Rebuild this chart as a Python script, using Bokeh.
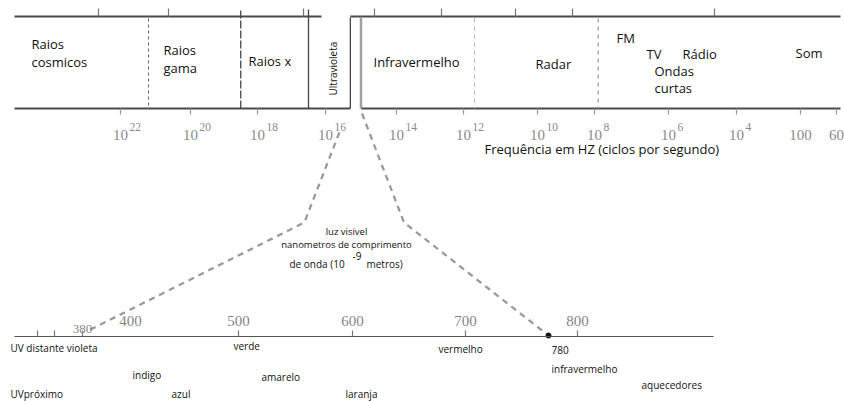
import numpy as np
from bokeh.plotting import figure
from bokeh.models import Range1d
from bokeh.embed import file_html
from bokeh.resources import INLINE
from bokeh.core.properties import value

# ---------------- data ----------------
freq_exponents = [22, 20, 18, 16, 14, 12, 10, 8, 6, 4]
freq_plain_values = [100, 60]
freq_plain_labels = ["100", "60"]
freq_title = "Frequência em HZ  (ciclos por segundo)"

band_names = ["Raios cosmicos", "Raios gama", "Raios x", "Ultravioleta", "Infravermelho",
              "Radar", "FM", "TV", "Rádio", "Ondas curtas", "Som"]
# band boundaries, as exponents of the frequency (10^e Hz)
band_edges_exp = [21.2, 18.5, 16.5, 15.3, 15.0, 11.7, 7.9]

nm_labels = [400, 500, 600, 700, 800]
nm_low_label = 380
nm_visible = [380, 780]
nm_tick_values = [340, 360, 380, 500, 600, 700, 800]

spectrum_names = ["UV distante violeta", "verde", "vermelho", "780", "indigo", "amarelo",
                  "infravermelho", "aquecedores", "UVpróximo", "azul", "laranja"]
center_lines = ["luz visivel", "nanometros de comprimento"]
center_last = ["de onda (10", "-9", "metros)"]

# ---------------- layout (scales) ----------------
FREQ_ANCHOR_E = np.array([22, 20, 18, 16, 14, 12, 10, 8, 6, 4, 2, np.log10(60)])
FREQ_ANCHOR_PX = np.array([120, 190, 257, 325, 396, 463, 537, 594, 668, 736, 800, 836])
NM_ANCHOR = np.array([340, 360, 380, 400, 500, 600, 700, 780, 800])
NM_ANCHOR_PX = np.array([37, 54, 82, 130, 238, 352, 465, 548, 577])


def f2x(e):
    return np.interp(-np.asarray(e, dtype=float), -FREQ_ANCHOR_E, FREQ_ANCHOR_PX)


def nm2x(n):
    return np.interp(np.asarray(n, dtype=float), NM_ANCHOR, NM_ANCHOR_PX)


FONT = value("Open Sans")
SERIF = value("Liberation Serif")
TOP_Y, BOT_Y = 16, 108
LEFT_X, RIGHT_X = 14, 840
AXIS_Y = 336

p = figure(width=844, height=401, x_range=Range1d(0, 844), y_range=Range1d(401, 0),
           output_backend="svg", toolbar_location=None, min_border=0,
           x_axis_location=None, y_axis_location=None)
p.grid.visible = False
p.outline_line_color = None
p.background_fill_color = "white"
p.border_fill_color = "white"

# --- top & bottom frame lines
uv_right = float(f2x(band_edges_exp[3]))
ir_left = float(f2x(band_edges_exp[4]))
p.segment(x0=[LEFT_X], y0=[TOP_Y], x1=[RIGHT_X], y1=[TOP_Y], line_color="#4a4a4a", line_width=2)
p.segment(x0=[LEFT_X, ir_left], y0=[BOT_Y, BOT_Y], x1=[uv_right, RIGHT_X], y1=[BOT_Y, BOT_Y],
          line_color="#4a4a4a", line_width=2)

# top ticks (printed slightly offset in the original)
top_tick_e = [22, 20, 16, 14, 12, 10, 8, 4]
tx = f2x(top_tick_e) - 22
p.segment(x0=tx, y0=[8] * len(tx), x1=tx, y1=[TOP_Y] * len(tx), line_color="#777", line_width=1.2)

# bottom ticks under frequency labels
bx = FREQ_ANCHOR_PX
p.segment(x0=bx, y0=[BOT_Y] * len(bx), x1=bx, y1=[BOT_Y + 6] * len(bx), line_color="#999", line_width=1.2)

# white box for Ultraviolet
box_left = float(f2x(band_edges_exp[2])) + 13
p.quad(left=[box_left], right=[uv_right], top=[11], bottom=[103], fill_color="white", line_color=None)

# band dividers
edge_styles = [
    dict(y0=18, color="#666", width=1, dash="3 3"),
    dict(y0=10, color="#444", width=1.3, dash="8 2"),
    dict(y0=9, color="#444", width=1.3, dash="solid"),
    dict(y0=17, color="#444", width=1.3, dash="solid"),
    dict(y0=17, color="#a0a0a0", width=2.5, dash="solid"),
    dict(y0=18, color="#b0b0b0", width=1, dash="4 4"),
    dict(y0=18, color="#999", width=1.2, dash="4 4"),
]
for e, st in zip(band_edges_exp, edge_styles):
    x = float(f2x(e))
    p.segment(x0=[x], y0=[st["y0"]], x1=[x], y1=[BOT_Y], line_color=st["color"],
              line_width=st["width"], line_dash=st["dash"])

# band labels
band_layout = {
    "Raios cosmicos": (31, [43, 61]),
    "Raios gama": (163, [49, 67]),
    "Raios x": (248, [60]),
    "Infravermelho": (373, [61]),
    "Radar": (535, [63]),
    "FM": (616, [37]),
    "TV": (646, [53]),
    "Rádio": (682, [53]),
    "Ondas curtas": (654, [70, 87]),
    "Som": (795, [52]),
}
lx, ly, lt = [], [], []
for name in band_names:
    if name not in band_layout:
        continue
    x, ys = band_layout[name]
    parts = name.split(" ") if len(ys) > 1 else [name]
    for part, y in zip(parts, ys):
        lx.append(x); ly.append(y); lt.append(part)
p.text(x=lx, y=ly, text=lt, text_font=FONT, text_font_size="13px", text_color="#111",
       text_align="left", text_baseline="alphabetic")

# rotated "Ultravioleta"
p.text(x=[332], y=[95], text=[band_names[3]], angle=np.pi / 2, text_font=FONT,
       text_font_size="10px", text_color="#111", text_align="left", text_baseline="alphabetic")

# frequency labels
fx = f2x(freq_exponents)
p.text(x=fx, y=[134] * len(fx), text=["10"] * len(fx), text_font=SERIF, text_font_size="15px",
       text_color="#8a8a8a", text_align="center", text_baseline="alphabetic")
p.text(x=fx + 9, y=[126] * len(fx), text=[str(e) for e in freq_exponents], text_font=SERIF,
       text_font_size="11.5px", text_color="#8a8a8a", text_align="left", text_baseline="alphabetic")
px_plain = f2x(np.log10(freq_plain_values))
p.text(x=px_plain, y=[134] * len(px_plain), text=freq_plain_labels, text_font=SERIF,
       text_font_size="15px", text_color="#8a8a8a", text_align="center", text_baseline="alphabetic")
p.text(x=[484], y=[148], text=[freq_title], text_font=FONT, text_font_size="13px",
       text_color="#111", text_align="left", text_baseline="alphabetic")

# dashed guide lines from UV/IR band edges to the visible range
xl_bot, xr_bot = nm2x(nm_visible)
p.line(x=[uv_right - 11, uv_right - 46, xl_bot + 4], y=[132, 222, 331], line_color="#9a9a9a",
       line_width=2.3, line_dash="6 5")
p.line(x=[ir_left + 1, ir_left + 43, xr_bot], y=[113, 222, AXIS_Y - 1], line_color="#9a9a9a",
       line_width=2.3, line_dash="6 5")
p.scatter(x=[xr_bot], y=[AXIS_Y - 1], size=5, color="#111")

# center text
p.text(x=[346, 346], y=[231, 244], text=center_lines, text_font=FONT, text_font_size="9.5px",
       text_color="#111", text_align="center", text_baseline="alphabetic")
p.text(x=[289, 352, 366], y=[263, 255, 263], text=center_last, text_font=FONT,
       text_font_size="10px", text_color="#111", text_align="left", text_baseline="alphabetic")

# visible-spectrum axis
p.segment(x0=[LEFT_X], y0=[AXIS_Y], x1=[713], y1=[AXIS_Y], line_color="#555", line_width=1.2)
nx = nm2x(nm_tick_values)
p.segment(x0=nx, y0=[AXIS_Y - 6] * len(nx), x1=nx, y1=[AXIS_Y] * len(nx), line_color="#777", line_width=1.2)
nlx = nm2x(nm_labels)
p.text(x=nlx, y=[320] * len(nlx), text=[str(v) for v in nm_labels], text_font=SERIF,
       text_font_size="15px", text_color="#858585", text_align="center", text_baseline="alphabetic")
p.text(x=[float(nm2x(nm_low_label))], y=[328], text=[str(nm_low_label)], text_font=SERIF,
       text_font_size="13px", text_color="#858585", text_align="center", text_baseline="alphabetic")

# spectrum names
spec_layout = {
    "UV distante violeta": (10, 347),
    "verde": (233, 345),
    "vermelho": (438, 348),
    "780": (551, 349),
    "indigo": (132, 374),
    "amarelo": (261, 376),
    "infravermelho": (551, 368),
    "aquecedores": (641, 384),
    "UVpróximo": (10, 393),
    "azul": (171, 393),
    "laranja": (345, 393),
}
sx = [spec_layout[n][0] for n in spectrum_names]
sy = [spec_layout[n][1] for n in spectrum_names]
p.text(x=sx, y=sy, text=spectrum_names, text_font=FONT, text_font_size="10px", text_color="#111",
       text_align="left", text_baseline="alphabetic")

open("out.html", "w").write(file_html(p, INLINE))
